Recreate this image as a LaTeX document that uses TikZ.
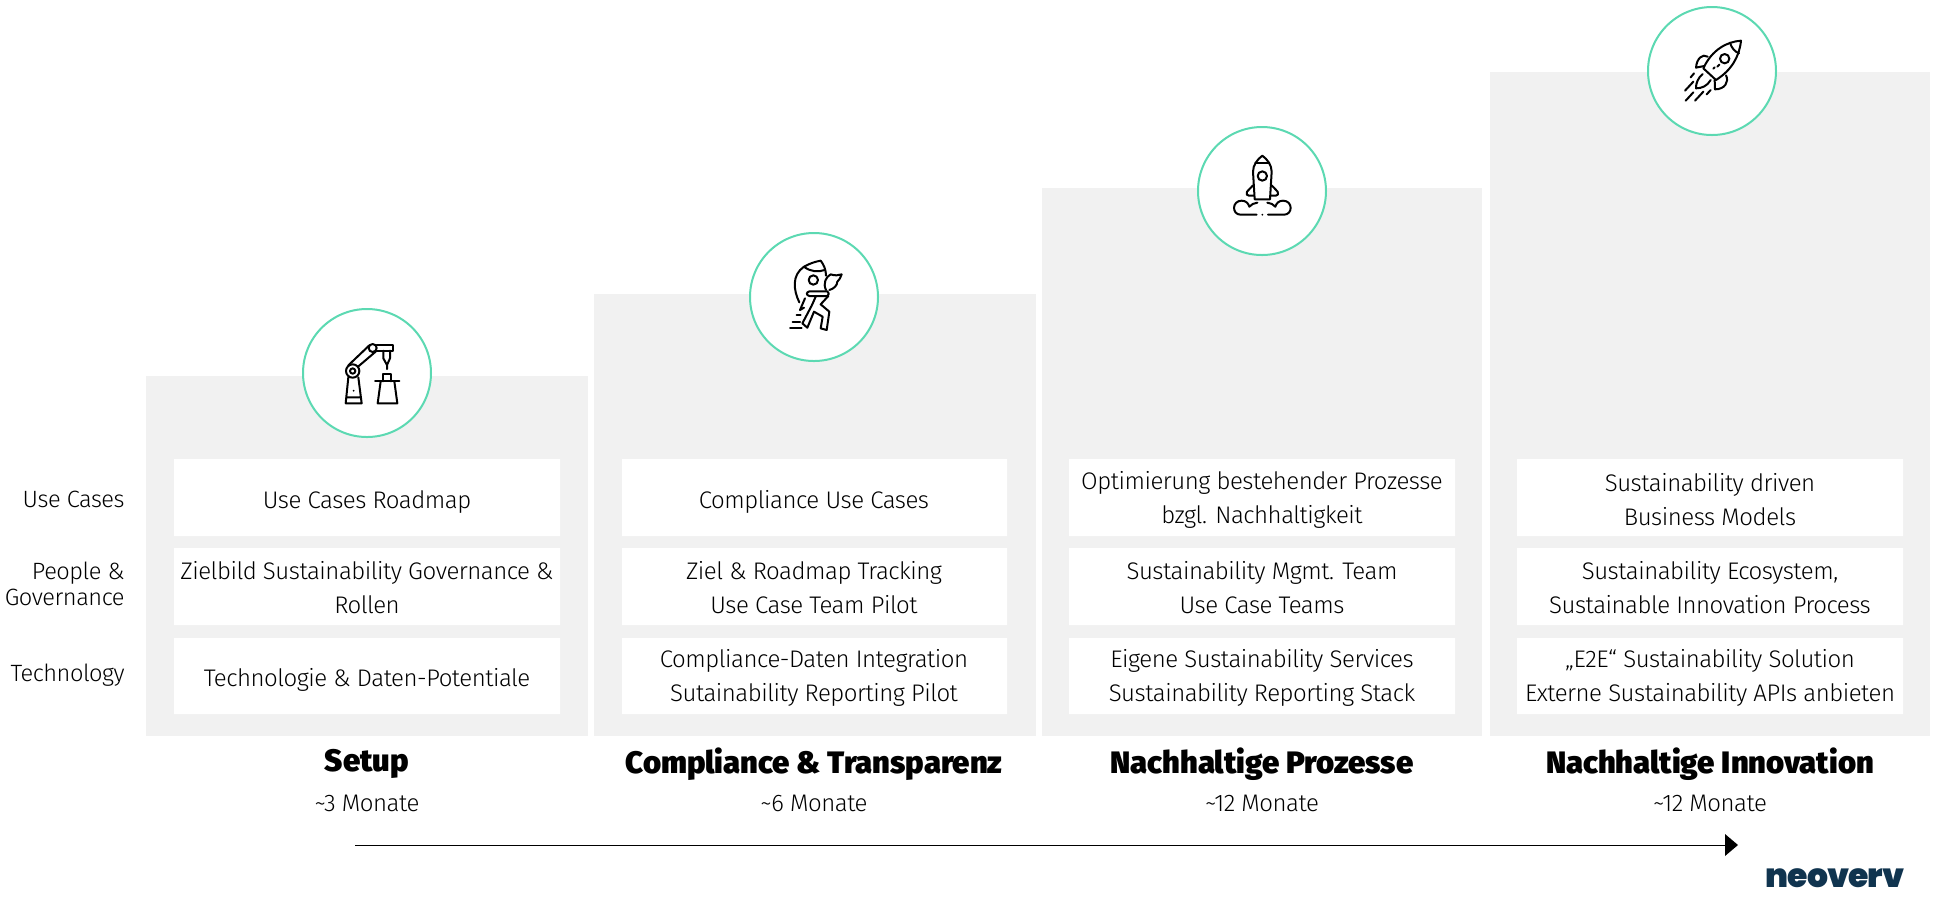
\documentclass[tikz,border=0pt]{standalone}
\usepackage{fontspec}
\setmainfont[BoldFont={Fira Sans Black},LetterSpace=-2,BoldFeatures={LetterSpace=0}]{Fira Sans Light}
\newfontfamily\logofont[LetterSpace=-3]{Poppins Black}
\definecolor{panelgray}{HTML}{F1F1F1}
\definecolor{ringgreen}{HTML}{5CD9B2}
\definecolor{logoblue}{HTML}{10344F}
\begin{document}
\begin{tikzpicture}[x=0.5pt,y=-0.5pt]
\tikzstyle{every node}=[inner sep=0pt,align=center,font=\fontsize{12}{17}\selectfont];
\tikzstyle{ring}=[circle,draw=ringgreen,line width=1pt,fill=white,minimum size=64pt];
\tikzstyle{rowlabel}=[anchor=east,align=right,font=\fontsize{11.8}{12.8}\selectfont];
\tikzstyle{phase}=[font=\fontsize{15.5}{18}\selectfont\bfseries];
\tikzstyle{icon}=[line width=1pt,line cap=round,line join=round];
\useasboundingbox (0,0) rectangle (1940,902);
% panels
\path[fill=panelgray] (146,376) rectangle (588,736);
\path[fill=panelgray] (594,294) rectangle (1036,736);
\path[fill=panelgray] (1042,188) rectangle (1482,736);
\path[fill=panelgray] (1490,72) rectangle (1930,736);
% white cells
\path[fill=white] (174,459) rectangle (560,536) (174,548) rectangle (560,625) (174,638) rectangle (560,714);
\path[fill=white] (622,459) rectangle (1007,536) (622,548) rectangle (1007,625) (622,638) rectangle (1007,714);
\path[fill=white] (1069,459) rectangle (1455,536) (1069,548) rectangle (1455,625) (1069,638) rectangle (1455,714);
\path[fill=white] (1517,459) rectangle (1903,536) (1517,548) rectangle (1903,625) (1517,638) rectangle (1903,714);
% row labels
\node[rowlabel] (l1) at (125,499) {Use Cases};
\node[rowlabel] (l2) at (125,584) {People \&\\Governance};
\node[rowlabel] (l3) at (125,675) {Technology};
% column 1
\node (a1) at (367,502) {Use Cases Roadmap};
\node (a2) at (367,588) {Zielbild Sustainability Governance \&\\Rollen};
\node (a3) at (367,680) {Technologie \& Daten-Potentiale};
\node[phase] (a4) at (367,764) {Setup};
\node (a5) at (367,803) {\textasciitilde 3 Monate};
% column 2
\node (b1) at (814,502) {Compliance Use Cases};
\node (b2) at (814,588) {Ziel \& Roadmap Tracking\\Use Case Team Pilot};
\node (b3) at (814,678) {Compliance-Daten Integration\\Sutainability Reporting Pilot};
\node[phase] (b4) at (814,764) {Compliance \& Transparenz};
\node (b5) at (814,803) {\textasciitilde 6 Monate};
% column 3
\node (c1) at (1262,500) {Optimierung bestehender Prozesse\\bzgl. Nachhaltigkeit};
\node (c2) at (1262,588) {Sustainability Mgmt. Team\\Use Case Teams};
\node (c3) at (1262,678) {Eigene Sustainability Services\\Sustainability Reporting Stack};
\node[phase] (c4) at (1262,764) {Nachhaltige Prozesse};
\node (c5) at (1262,803) {\textasciitilde 12 Monate};
% column 4
\node (d1) at (1710,500) {Sustainability driven\\Business Models};
\node (d2) at (1710,588) {Sustainability Ecosystem,\\Sustainable Innovation Process};
\node (d3) at (1710,678) {„E2E“ Sustainability Solution\\Externe Sustainability APIs anbieten};
\node[phase] (d4) at (1710,764) {Nachhaltige Innovation};
\node (d5) at (1710,803) {\textasciitilde 12 Monate};
% rings
\node[ring] (r1) at (367,373) {};
\node[ring] (r2) at (814,297) {};
\node[ring] (r3) at (1262,191) {};
\node[ring] (r4) at (1712,71) {};
% timeline
\coordinate (t0) at (355,845);
\coordinate (t1) at (1738,845);
\coordinate (t2) at (1725,845);
\draw[line width=0.5pt] (t0) -- (t2);
\path[fill=black] (t1) -- (1725,834) -- (1725,856) -- cycle;
\node[font=\logofont\fontsize{16.5}{17}\selectfont,text=logoblue] (logo) at (1835,878) {neoverv};
% robot arm
\begin{scope}[shift={(280,290)},x=0.16667pt,y=-0.16667pt,icon]
\draw (197,340) -- (245,340) -- (235,262) (197,340) -- (205,262) (200,322) -- (243,322);
\fill (221,302) circle (3);
\draw (218,243) circle (20) (218,243) circle (8);
\draw (205,226) -- (268,166) (234,230) -- (288,184);
\draw (278,174) circle (12);
\draw (290,165) -- (340,165) -- (340,182) -- (288,182);
\draw (310,182) -- (310,205) -- (321,225) -- (330,205) -- (330,182) (321,225) -- (321,237);
\draw (285,274) -- (358,274) (310,274) -- (310,252) -- (333,252) -- (333,274);
\draw (302,274) -- (293,340) -- (352,340) -- (343,274);
\end{scope}
% rocket man
\begin{scope}[shift={(730,215)},x=0.16667pt,y=-0.16667pt,icon]
\draw (208,262) .. controls (190,225) and (185,180) .. (222,155) .. controls (240,145) and (255,140) .. (272,137) .. controls (282,150) and (288,165) .. (288,182);
\draw (222,155) .. controls (240,170) and (265,172) .. (284,165);
\draw (250,195) circle (14);
\draw (288,225) .. controls (278,205) and (288,185) .. (302,178) .. controls (315,182) and (325,182) .. (335,178) .. controls (330,190) and (328,195) .. (322,200) .. controls (322,212) and (310,222) .. (298,225);
\draw (238,229) -- (292,229) .. controls (298,232) and (298,240) .. (292,243) -- (238,243) .. controls (228,240) and (228,232) .. (238,229);
\draw (295,243) -- (272,268) -- (298,290) -- (290,345) -- (272,340) -- (278,305) -- (252,290) -- (232,338) -- (217,325) -- (245,272) -- (258,243);
\draw (225,250) -- (210,285) -- (222,278);
\draw (180,338) -- (215,338) (188,322) -- (210,322) (200,300) -- (212,300);
\end{scope}
% rocket on pad
\begin{scope}[shift={(1180,110)},x=0.16667pt,y=-0.16667pt,icon]
\draw (224,268) -- (219,185) .. controls (219,165) and (232,148) .. (247,137) .. controls (262,148) and (275,165) .. (275,185) -- (270,268) -- cycle;
\draw (226,160) -- (268,160);
\draw (247,198) circle (14);
\draw (219,226) -- (201,245) .. controls (198,252) and (200,257) .. (207,257) -- (222,257);
\draw (275,226) -- (293,245) .. controls (296,252) and (294,257) .. (287,257) -- (272,257);
\draw (230,314) -- (182,314) .. controls (155,314) and (155,272) .. (185,272) .. controls (198,272) and (205,280) .. (208,290) .. controls (214,282) and (222,280) .. (232,278);
\draw (264,314) -- (312,314) .. controls (339,314) and (339,272) .. (309,272) .. controls (296,272) and (289,280) .. (286,290) .. controls (280,282) and (272,280) .. (262,278);
\fill (247,314) circle (3);
\end{scope}
% rocket in flight
\begin{scope}[shift={(1630,0)},x=0.16667pt,y=-0.16667pt,icon]
\draw (333,122) .. controls (290,125) and (245,150) .. (220,205) -- (258,240) .. controls (305,210) and (328,170) .. (333,122) -- cycle;
\draw (300,128) .. controls (305,145) and (315,155) .. (327,160);
\draw (284,176) circle (14);
\draw (268,194) -- (262,200) (250,206) -- (254,202);
\draw (233,170) .. controls (218,160) and (200,175) .. (198,203) -- (222,198);
\draw (288,226) .. controls (298,245) and (285,268) .. (255,268) -- (254,240);
\draw (218,222) .. controls (205,232) and (197,250) .. (198,265) .. controls (215,265) and (232,258) .. (242,240);
\draw (165,272) -- (190,245) (182,232) -- (192,220);
\draw (167,302) -- (190,277) (195,302) -- (220,275) (230,283) -- (242,270);
\end{scope}
\end{tikzpicture}
\end{document}
